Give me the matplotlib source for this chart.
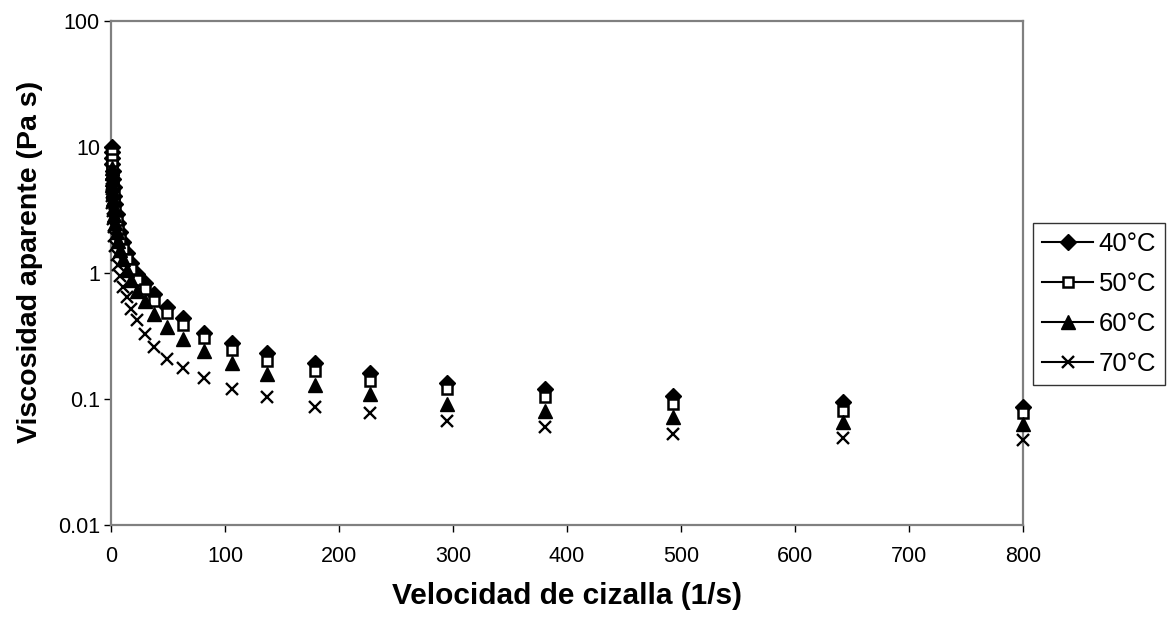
import matplotlib
matplotlib.use("Agg")
import matplotlib.pyplot as plt
from matplotlib.lines import Line2D
from matplotlib.ticker import FixedLocator, FixedFormatter, NullLocator

plt.rcParams['font.family'] = ['Liberation Sans', 'DejaVu Sans']

# shear rate (1/s)
shear = [0.5, 0.64, 0.83, 1.07, 1.4, 1.8, 2.3, 2.9, 3.8, 4.9, 6.3, 8.2, 10.6,
         13.7, 17.7, 23, 29.5, 38, 49, 63, 82, 106, 137, 179, 227, 295, 381,
         493, 642, 800]

# apparent viscosity (Pa s)
visc_40 = [10.0, 9.1, 8.2, 7.3, 6.4, 5.6, 4.8, 4.1, 3.5, 2.95, 2.5, 2.1, 1.75,
           1.45, 1.2, 0.99, 0.83, 0.68, 0.54, 0.44, 0.333, 0.277, 0.23, 0.192,
           0.16, 0.135, 0.119, 0.105, 0.094, 0.087]
visc_50 = [9.0, 8.1, 7.2, 6.4, 5.6, 4.9, 4.2, 3.6, 3.1, 2.6, 2.2, 1.85, 1.55,
           1.3, 1.08, 0.88, 0.74, 0.60, 0.48, 0.39, 0.303, 0.243, 0.20, 0.166,
           0.14, 0.119, 0.103, 0.092, 0.081, 0.077]
visc_60 = [6.8, 6.2, 5.6, 5.0, 4.4, 3.85, 3.35, 2.9, 2.5, 2.1, 1.8, 1.52, 1.28,
           1.06, 0.88, 0.72, 0.60, 0.47, 0.37, 0.30, 0.24, 0.192, 0.157, 0.130,
           0.109, 0.092, 0.081, 0.072, 0.066, 0.063]
visc_70 = [5.1, 4.6, 4.1, 3.6, 3.1, 2.7, 2.3, 1.95, 1.65, 1.38, 1.15, 0.95, 0.78,
           0.64, 0.52, 0.42, 0.33, 0.26, 0.206, 0.175, 0.146, 0.119, 0.103,
           0.087, 0.077, 0.067, 0.060, 0.053, 0.049, 0.047]

labels = ["40°C", "50°C", "60°C", "70°C"]
y_ticks = [0.01, 0.1, 1, 10, 100]
y_tick_labels = ["0.01", "0.1", "1", "10", "100"]
x_ticks = [0, 100, 200, 300, 400, 500, 600, 700, 800]

styles = [
    dict(marker="D", markersize=8, markerfacecolor="black", markeredgecolor="black", markeredgewidth=1),
    dict(marker="s", markersize=7.5, markerfacecolor="white", markeredgecolor="black", markeredgewidth=1.8),
    dict(marker="^", markersize=9.5, markerfacecolor="black", markeredgecolor="black", markeredgewidth=1),
    dict(marker="x", markersize=8.5, markerfacecolor="black", markeredgecolor="black", markeredgewidth=1.7),
]

fig = plt.figure(figsize=(11.68, 6.2), dpi=100)
ax = fig.add_axes([111 / 1168, 1 - 525 / 620, (1023 - 111) / 1168, (525 - 21) / 620])

series = [visc_40, visc_50, visc_60, visc_70]
for vals, st in zip(series, styles):
    ax.plot(shear, vals, linestyle="none", clip_on=False, zorder=3, **st)

ax.set_yscale("log")
ax.set_xlim(0, 800)
ax.set_ylim(0.01, 100)
ax.yaxis.set_major_locator(FixedLocator(y_ticks))
ax.yaxis.set_major_formatter(FixedFormatter(y_tick_labels))
ax.yaxis.set_minor_locator(NullLocator())
ax.set_xticks(x_ticks)
ax.set_xticklabels([str(v) for v in x_ticks])

for sp in ax.spines.values():
    sp.set_color("#808080")
    sp.set_linewidth(1.6)
ax.tick_params(axis="both", which="major", direction="out", length=5, width=1,
               color="black", labelsize=15.5)
ax.tick_params(axis="x", pad=10)
ax.tick_params(axis="y", pad=3)

# axis titles placed in figure pixels
fig.text(567 / 1168, 1 - 596 / 620, "Velocidad de cizalla (1/s)", fontsize=21.5,
         fontweight="bold", ha="center", va="center")
fig.text(30 / 1168, 1 - 262 / 620, "Viscosidad aparente (Pa s)", fontsize=20.5,
         fontweight="bold", ha="center", va="center", rotation=90)

handles = [Line2D([0], [0], color="black", linewidth=1.5, **st) for st in styles]
leg = fig.legend(handles, labels, loc="upper left",
                 bbox_to_anchor=(1033 / 1168, 1 - 223 / 620),
                 frameon=True, fancybox=False, fontsize=18.5, handlelength=2.0,
                 handletextpad=0.2, borderpad=0.35, labelspacing=0.62,
                 borderaxespad=0)
leg.get_frame().set_edgecolor("black")
leg.get_frame().set_linewidth(1)

fig.savefig("out.png", dpi=100)
